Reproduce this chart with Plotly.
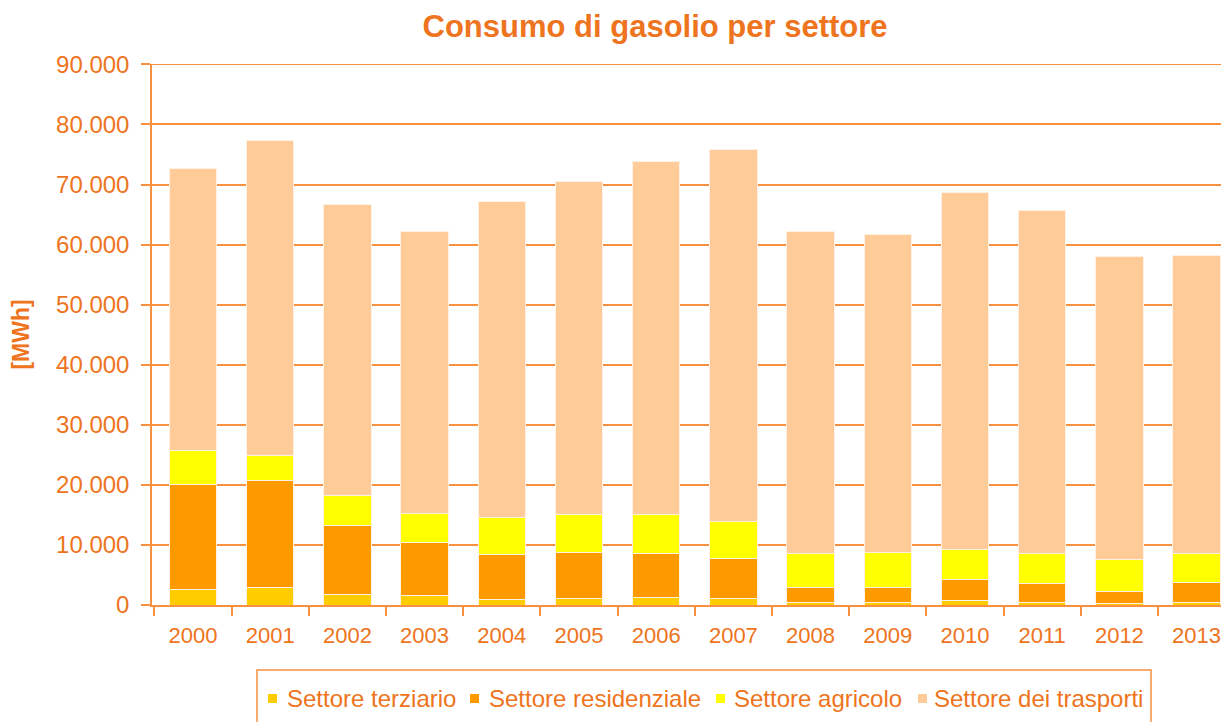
import plotly.graph_objects as go

years = ["2000", "2001", "2002", "2003", "2004", "2005", "2006", "2007",
         "2008", "2009", "2010", "2011", "2012", "2013"]
terziario = [2650, 2900, 1800, 1550, 900, 1100, 1330, 1160, 450, 450, 670, 450, 300, 450]
residenziale = [17450, 17800, 11500, 8850, 7500, 7700, 7270, 6640, 2450, 2450, 3530, 3100, 1900, 3350]
agricolo = [5700, 4260, 5000, 4850, 6200, 6200, 6400, 6100, 5700, 5900, 5100, 5050, 5350, 4800]
trasporti = [46860, 52340, 48400, 46850, 52600, 55500, 58800, 61900, 53500, 52900, 59400, 57100, 50400, 49600]

series_names = ["Settore terziario", "Settore residenziale", "Settore agricolo", "Settore dei trasporti"]
series_values = [terziario, residenziale, agricolo, trasporti]
series_colors = ["#FFCC00", "#FF9900", "#FFFF00", "#FFCC99"]

TXT = "#EE7420"
GRID = "#F7903F"
FONT = "Liberation Sans, Arial, sans-serif"
Y_MAX = 90000

# plot area in screen pixels (for placing the legend drawn by hand)
PX0, PX1, PY0, PY1 = 152, 1229, 64, 605


def px(sx):
    return (sx - PX0) / (PX1 - PX0)


def py(sy):
    return (PY1 - sy) / (PY1 - PY0)


fig = go.Figure()
for name, vals, col in zip(series_names, series_values, series_colors):
    fig.add_trace(go.Bar(x=years, y=vals, name=name, showlegend=False,
                         marker=dict(color=col, line=dict(color="#FFF1E4", width=1))))

# top gridline (at the axis maximum)
shapes = [dict(type="line", xref="paper", yref="y", x0=0, x1=1, y0=Y_MAX, y1=Y_MAX,
               line=dict(color=GRID, width=1.5), layer="below")]

# legend (box, colour squares, labels)
legend_sq_x = [268, 470, 716, 918]
legend_txt_x = [285, 487, 732, 932]
shapes.append(dict(type="rect", xref="paper", yref="paper",
                   x0=px(257), x1=px(1151), y0=py(740), y1=py(670),
                   line=dict(color=GRID, width=1.5), fillcolor="rgba(0,0,0,0)"))
annotations = []
for sx, tx, name, col in zip(legend_sq_x, legend_txt_x, series_names, series_colors):
    shapes.append(dict(type="rect", xref="paper", yref="paper",
                       x0=px(sx), x1=px(sx + 9), y0=py(703), y1=py(694),
                       line=dict(width=0), fillcolor=col))
    annotations.append(dict(text=name, xref="paper", yref="paper", x=px(tx), y=py(698),
                            xanchor="left", yanchor="middle", showarrow=False,
                            font=dict(size=24, color=TXT, family=FONT)))

fig.update_layout(
    barmode="stack",
    bargap=0.385,
    width=1229, height=722,
    margin=dict(l=PX0 - 8, r=8, t=PY0 - 8, b=730 - PY1),
    paper_bgcolor="white", plot_bgcolor="white",
    separators=",.",
    font=dict(family=FONT, color=TXT, size=22),
    title=dict(text="<b>Consumo di gasolio per settore</b>", x=0.5265, xanchor="center",
               y=0.975, yanchor="middle", font=dict(size=31, color=TXT, family=FONT)),
    shapes=shapes,
    annotations=annotations,
)
fig.update_xaxes(type="category", range=[-0.531, 13.42], tickson="boundaries",
                 ticks="outside", ticklen=9, tickcolor=GRID, tickwidth=1.5,
                 showline=True, linecolor=GRID, linewidth=1.5,
                 showgrid=False, ticklabelstandoff=10,
                 tickfont=dict(size=22, color=TXT))
fig.update_yaxes(range=[0, Y_MAX + 60], dtick=10000, tickformat=",d",
                 ticks="outside", ticklen=9, tickcolor=GRID, tickwidth=1.5,
                 showline=True, linecolor=GRID, linewidth=1.5,
                 showgrid=True, gridcolor=GRID, gridwidth=1.5, zeroline=False,
                 ticklabelstandoff=7,
                 tickfont=dict(size=24, color=TXT),
                 title=dict(text="<b>[MWh]</b>", font=dict(size=23, color=TXT), standoff=24))

fig.write_html("out.html")
